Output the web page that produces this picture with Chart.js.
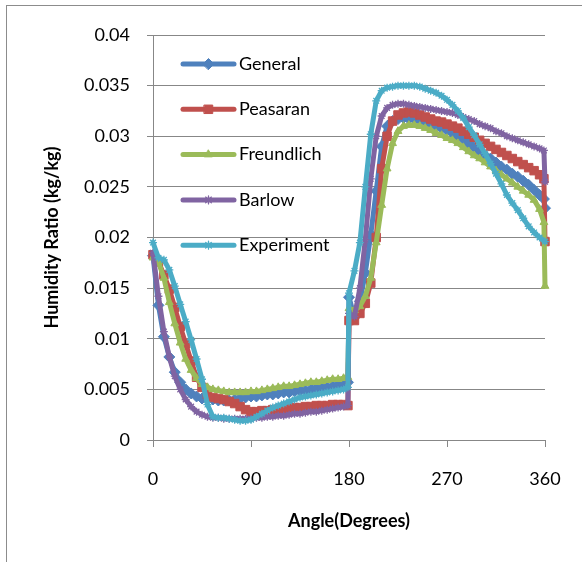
<!DOCTYPE html>
<html><head><meta charset="utf-8">
<script src="https://cdn.jsdelivr.net/npm/chart.js@4/dist/chart.umd.min.js"></script>
<style>html,body{margin:0;padding:0;background:#fff;}</style>
</head><body>
<canvas id="c" width="582" height="562"></canvas>
<script>
const modelAngles = [0,5,10,15,20,25,30,35,40,45,50,55,60,65,70,75,80,85,90,95,100,105,110,115,120,125,130,135,140,145,150,155,160,165,170,175,179,
  180,185,190,195,200,205,210,215,220,225,230,235,240,245,250,255,260,265,270,275,280,285,290,295,300,305,310,315,320,325,330,335,340,345,350,355,359,360];
const general = [0.0182,0.0133,0.0102,0.0082,0.0067,0.0057,0.0050,0.0046,0.0043,0.0041,0.0040,0.0040,0.0039,0.0039,0.0039,0.0040,0.0041,0.0042,0.0043,0.0043,0.0044,0.0045,0.0045,0.0046,0.0047,0.0047,0.0048,0.0049,0.0049,0.0050,0.0051,0.0051,0.0052,0.0053,0.0054,0.0055,0.0057,
  0.0141,0.0121,0.0137,0.0165,0.0203,0.0246,0.0290,0.0310,0.0315,0.0317,0.0318,0.0317,0.0317,0.0316,0.0314,0.0312,0.0310,0.0308,0.0306,0.0303,0.0300,0.0297,0.0293,0.0289,0.0285,0.0281,0.0278,0.0274,0.0270,0.0267,0.0263,0.0260,0.0256,0.0252,0.0247,0.0242,0.0238,0.0229];
const peasaran = [0.0183,0.0176,0.0163,0.0149,0.0131,0.0112,0.0095,0.0078,0.0062,0.0052,0.0045,0.0042,0.0041,0.0040,0.0038,0.0036,0.0033,0.0030,0.0028,0.0028,0.0029,0.0029,0.0030,0.0030,0.0031,0.0031,0.0032,0.0032,0.0033,0.0033,0.0034,0.0034,0.0034,0.0035,0.0035,0.0035,0.0034,
  0.0118,0.0118,0.0125,0.0135,0.0155,0.0200,0.0268,0.0300,0.0315,0.0321,0.0323,0.0324,0.0323,0.0321,0.0319,0.0317,0.0315,0.0314,0.0312,0.0310,0.0308,0.0305,0.0302,0.0299,0.0296,0.0293,0.0290,0.0287,0.0284,0.0281,0.0278,0.0275,0.0272,0.0269,0.0266,0.0262,0.0258,0.0196];
const freundlich = [0.0180,0.0176,0.0160,0.0136,0.0115,0.0096,0.0080,0.0069,0.0061,0.0055,0.0052,0.0050,0.0049,0.0048,0.0047,0.0047,0.0047,0.0047,0.0048,0.0048,0.0049,0.0050,0.0051,0.0052,0.0053,0.0053,0.0054,0.0055,0.0056,0.0057,0.0057,0.0058,0.0059,0.0060,0.0060,0.0061,0.0062,
  0.0130,0.0128,0.0132,0.0142,0.0160,0.0195,0.0232,0.0268,0.0293,0.0305,0.0310,0.0311,0.0311,0.0310,0.0308,0.0306,0.0303,0.0301,0.0298,0.0296,0.0293,0.0289,0.0285,0.0281,0.0278,0.0274,0.0270,0.0266,0.0262,0.0258,0.0254,0.0250,0.0246,0.0242,0.0237,0.0228,0.0215,0.0152];
const barlow = [0.0185,0.0142,0.0107,0.0082,0.0063,0.0050,0.0040,0.0033,0.0028,0.0025,0.0023,0.0022,0.0022,0.0021,0.0021,0.0021,0.0021,0.0021,0.0021,0.0022,0.0022,0.0023,0.0023,0.0024,0.0024,0.0025,0.0026,0.0026,0.0027,0.0028,0.0028,0.0029,0.0030,0.0031,0.0032,0.0033,0.0034,
  0.0125,0.0122,0.0150,0.0198,0.0258,0.0300,0.0320,0.0328,0.0331,0.0332,0.0332,0.0331,0.0330,0.0329,0.0328,0.0327,0.0326,0.0325,0.0324,0.0323,0.0321,0.0319,0.0317,0.0315,0.0312,0.0310,0.0308,0.0305,0.0303,0.0300,0.0298,0.0296,0.0294,0.0292,0.0290,0.0288,0.0286,0.0255];
const expAngles = [0,5,10,15,20,25,30,35,40,45,50,55,60,65,70,75,80,85,90,95,100,105,110,115,120,125,130,135,140,145,150,155,160,165,170,175,179,
  180,185,190,195,200,205,210,215,220,225,230,235,240,245,250,255,260,265,270,275,280,285,290,295,300,305,310,315,320,325,330,335,340,345,350,355,360];
const experiment = [0.0195,0.0180,0.0178,0.0168,0.0152,0.0134,0.0117,0.0099,0.0080,0.0060,0.0035,0.0023,0.0022,0.0022,0.0021,0.0020,0.0019,0.0019,0.0020,0.0023,0.0026,0.0029,0.0032,0.0034,0.0036,0.0038,0.0040,0.0042,0.0043,0.0044,0.0045,0.0046,0.0047,0.0048,0.0049,0.0050,0.0052,
  0.0145,0.0167,0.0195,0.0250,0.0302,0.0335,0.0345,0.0348,0.0349,0.0350,0.0350,0.0350,0.0350,0.0349,0.0347,0.0345,0.0343,0.0340,0.0336,0.0331,0.0325,0.0318,0.0309,0.0301,0.0292,0.0283,0.0273,0.0263,0.0253,0.0242,0.0234,0.0227,0.0219,0.0211,0.0205,0.0200,0.0196];
const seriesNames = ['General','Peasaran','Freundlich','Barlow','Experiment'];
const xTicks = [0,90,180,270,360];
const xTickLabels = ['0','90','180','270','360'];
const yTicks = [0,0.005,0.01,0.015,0.02,0.025,0.03,0.035,0.04];
const yTickLabels = ['0','0.005','0.01','0.015','0.02','0.025','0.03','0.035','0.04'];

const pts = (xs, ys) => xs.map((x, i) => ({x: x, y: ys[i]}));
const styles = [
  {color:'#4F81BD', ps:'rectRot', r:5.5, bw:1},
  {color:'#C0504D', ps:'rect', r:6, bw:1},
  {color:'#9BBB59', ps:'triangle', r:4.5, bw:1},
  {color:'#8064A2', ps:'star', r:4, bw:1.3},
  {color:'#4BACC6', ps:'star', r:4, bw:1.3}
];
const seriesData = [pts(modelAngles, general), pts(modelAngles, peasaran), pts(modelAngles, freundlich), pts(modelAngles, barlow), pts(expAngles, experiment)];
const datasets = seriesNames.map((name, i) => ({
  label: name,
  data: seriesData[i],
  borderColor: styles[i].color,
  backgroundColor: styles[i].color,
  pointBackgroundColor: styles[i].color,
  pointBorderColor: styles[i].color,
  pointStyle: styles[i].ps,
  pointRadius: styles[i].r,
  pointBorderWidth: styles[i].bw,
  borderWidth: 5,
  borderJoinStyle: 'round',
  borderCapStyle: 'round',
  tension: 0,
  clip: 12,
  order: seriesNames.length - 1 - i
}));

const gridColor = '#878787';
const tickFont = {family: 'Lato', size: 18};
const titleFont = {family: 'Lato', size: 18, weight: 'bold'};

const framePlugin = {
  id: 'frame',
  beforeDraw(chart) {
    const c = chart.ctx;
    c.save();
    c.fillStyle = '#fff';
    c.fillRect(0, 0, chart.width, chart.height);
    c.strokeStyle = '#8c8c8c';
    c.lineWidth = 1;
    c.strokeRect(6.5, 5.5, chart.width + 20, chart.height + 20);
    c.restore();
  }
};

const legendPlugin = {
  id: 'inlegend',
  afterDraw(chart) {
    const ctx = chart.ctx;
    const a = chart.chartArea;
    chart.data.datasets.forEach((ds, i) => {
      const y = a.top + 29 + i * 45.3;
      const x0 = a.left + 30, x1 = a.left + 81;
      ctx.save();
      ctx.strokeStyle = ds.borderColor;
      ctx.lineWidth = 5;
      ctx.lineCap = 'round';
      ctx.beginPath();
      ctx.moveTo(x0, y);
      ctx.lineTo(x1, y);
      ctx.stroke();
      ctx.fillStyle = ds.pointBackgroundColor;
      ctx.strokeStyle = ds.pointBorderColor;
      ctx.lineWidth = ds.pointBorderWidth;
      if (Chart.helpers && Chart.helpers.drawPoint) {
        Chart.helpers.drawPoint(ctx, {pointStyle: ds.pointStyle, radius: ds.pointRadius, borderWidth: ds.pointBorderWidth, rotation: 0}, (x0 + x1) / 2, y);
      }
      ctx.fillStyle = '#000';
      ctx.font = '18px Lato';
      ctx.textBaseline = 'middle';
      ctx.textAlign = 'left';
      ctx.fillText(ds.label, a.left + 86, y);
      ctx.restore();
    });
  }
};

new Chart(document.getElementById('c'), {
  type: 'line',
  data: {datasets: datasets},
  plugins: [framePlugin, legendPlugin],
  options: {
    responsive: false,
    animation: false,
    devicePixelRatio: 1,
    layout: {padding: {left: 0, top: 35, right: 37, bottom: 0}},
    plugins: {legend: {display: false}, tooltip: {enabled: false}},
    scales: {
      x: {
        type: 'linear', min: 0, max: 360,
        afterBuildTicks: s => { s.ticks = xTicks.map(v => ({value: v})); },
        afterFit: s => { s.height = 122; },
        grid: {drawOnChartArea: false, drawTicks: true, tickLength: 7, color: gridColor},
        border: {display: true, color: gridColor},
        ticks: {padding: 21, font: tickFont, color: '#000', maxRotation: 0, autoSkip: false,
          callback: (v, i) => xTickLabels[i]},
        title: {display: true, text: 'Angle(Degrees)', font: titleFont, color: '#000', padding: {top: 0, bottom: 30}}
      },
      y: {
        type: 'linear', min: 0, max: 0.04,
        afterBuildTicks: s => { s.ticks = yTicks.map(v => ({value: v})); },
        afterFit: s => { s.width = 153; },
        grid: {drawTicks: true, tickLength: 6, color: gridColor},
        border: {display: true, color: gridColor},
        ticks: {padding: 17, font: tickFont, color: '#000', autoSkip: false,
          callback: (v, i) => yTickLabels[i]},
        title: {display: true, text: 'Humidity Ratio (kg/kg)', font: titleFont, color: '#000', padding: {top: 41, bottom: 0}}
      }
    }
  }
});
</script>
</body></html>
